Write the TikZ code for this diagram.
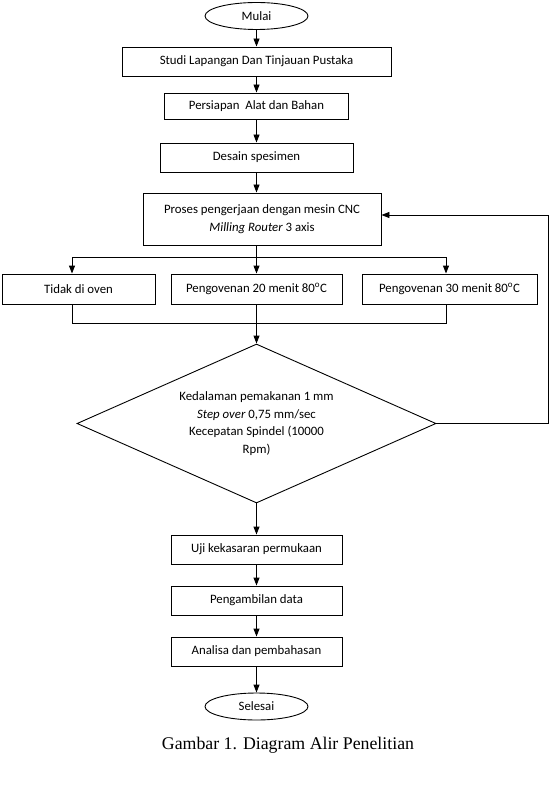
\documentclass[tikz,border=0pt]{standalone}
\usepackage{fontspec}
\setmainfont{Carlito}
\newfontfamily\capfont{Liberation Serif}
\usetikzlibrary{shapes.geometric,arrows.meta}

\tikzstyle{proc}=[rectangle, draw, minimum height=29pt, inner sep=0pt, font=\fontsize{12.8}{17.5}\selectfont]
\tikzstyle{term}=[ellipse, draw, minimum width=103pt, minimum height=27pt, inner sep=0pt, font=\fontsize{12.8}{17.5}\selectfont]
\tikzstyle{cond}=[diamond, draw, aspect=2.26, minimum width=359pt, minimum height=159pt, inner sep=0pt, align=center, font=\fontsize{12.8}{17.5}\selectfont]
\tikzstyle{arr}=[-{Triangle[length=8pt,width=6pt]}]

\begin{document}
\begin{tikzpicture}[x=1pt, y=-1pt, line width=0.9pt]
\useasboundingbox (0,0) rectangle (550,794);

\node[term] (mulai) at (256.5,16) {Mulai};
\node[proc, minimum width=269pt] (studi) at (256.5,61.5) {Studi Lapangan Dan Tinjauan Pustaka};
\node[proc, minimum width=184pt, minimum height=26pt] (siap) at (256.5,106) {Persiapan~ Alat dan Bahan};
\node[proc, minimum width=193pt] (desain) at (256.5,157.5) {Desain spesimen};
\node[proc, minimum width=238pt, minimum height=52pt, align=center] (proses) at (262,219) {Proses pengerjaan dengan mesin CNC\\\textit{Milling Router} 3 axis};

\node[proc, minimum width=153pt, minimum height=30pt] (tidak) at (78.5,289) {Tidak di oven};
\node[proc, minimum width=171pt, minimum height=30pt] (oven20) at (256.5,289) {Pengovenan 20 menit 80\textsuperscript{o}C};
\node[proc, minimum width=175pt, minimum height=30pt] (oven30) at (449.5,289) {Pengovenan 30 menit 80\textsuperscript{o}C};

\node[cond] (dia) at (256.5,423.5) {Kedalaman pemakanan 1 mm\\\textit{Step over} 0,75 mm/sec\\Kecepatan Spindel (10000\\Rpm)};

\node[proc, minimum width=171pt] (uji) at (256.5,549.5) {Uji kekasaran permukaan};
\node[proc, minimum width=171pt] (data) at (256.5,600.5) {Pengambilan data};
\node[proc, minimum width=171pt] (analisa) at (256.5,651.5) {Analisa dan pembahasan};
\node[term] (selesai) at (256.5,706.5) {Selesai};

\node[font=\capfont\fontsize{17.8}{17.8}\selectfont] (judul) at (288,745) {Gambar 1. Diagram Alir Penelitian};

\coordinate (cab) at (256.5,257);
\coordinate (cabl) at (72,257);
\coordinate (cabr) at (446,257);
\coordinate (gab) at (256.5,323);
\coordinate (gabl) at (72,323);
\coordinate (gabr) at (446,323);
\coordinate (balik) at (548,215);

\draw[arr] (mulai) -- (studi);
\draw[arr] (studi) -- (siap);
\draw[arr] (siap) -- (desain);
\draw[arr] (desain) -- (desain.south |- proses.north);
\draw (cab |- proses.south) -- (cab);
\draw (cabl) -- (cabr);
\draw[arr] (cabl) -- (cabl |- tidak.north);
\draw[arr] (cab) -- (cab |- oven20.north);
\draw[arr] (cabr) -- (cabr |- oven30.north);
\draw (gabl |- tidak.south) -- (gabl) -- (gabr) -- (gabr |- oven30.south);
\draw[arr] (gab |- oven20.south) -- (dia.north);
\draw[arr] (dia.east) -| (balik) -- (balik -| proses.east);
\draw[arr] (dia) -- (uji);
\draw[arr] (uji) -- (data);
\draw[arr] (data) -- (analisa);
\draw[arr] (analisa) -- (selesai);
\end{tikzpicture}
\end{document}
